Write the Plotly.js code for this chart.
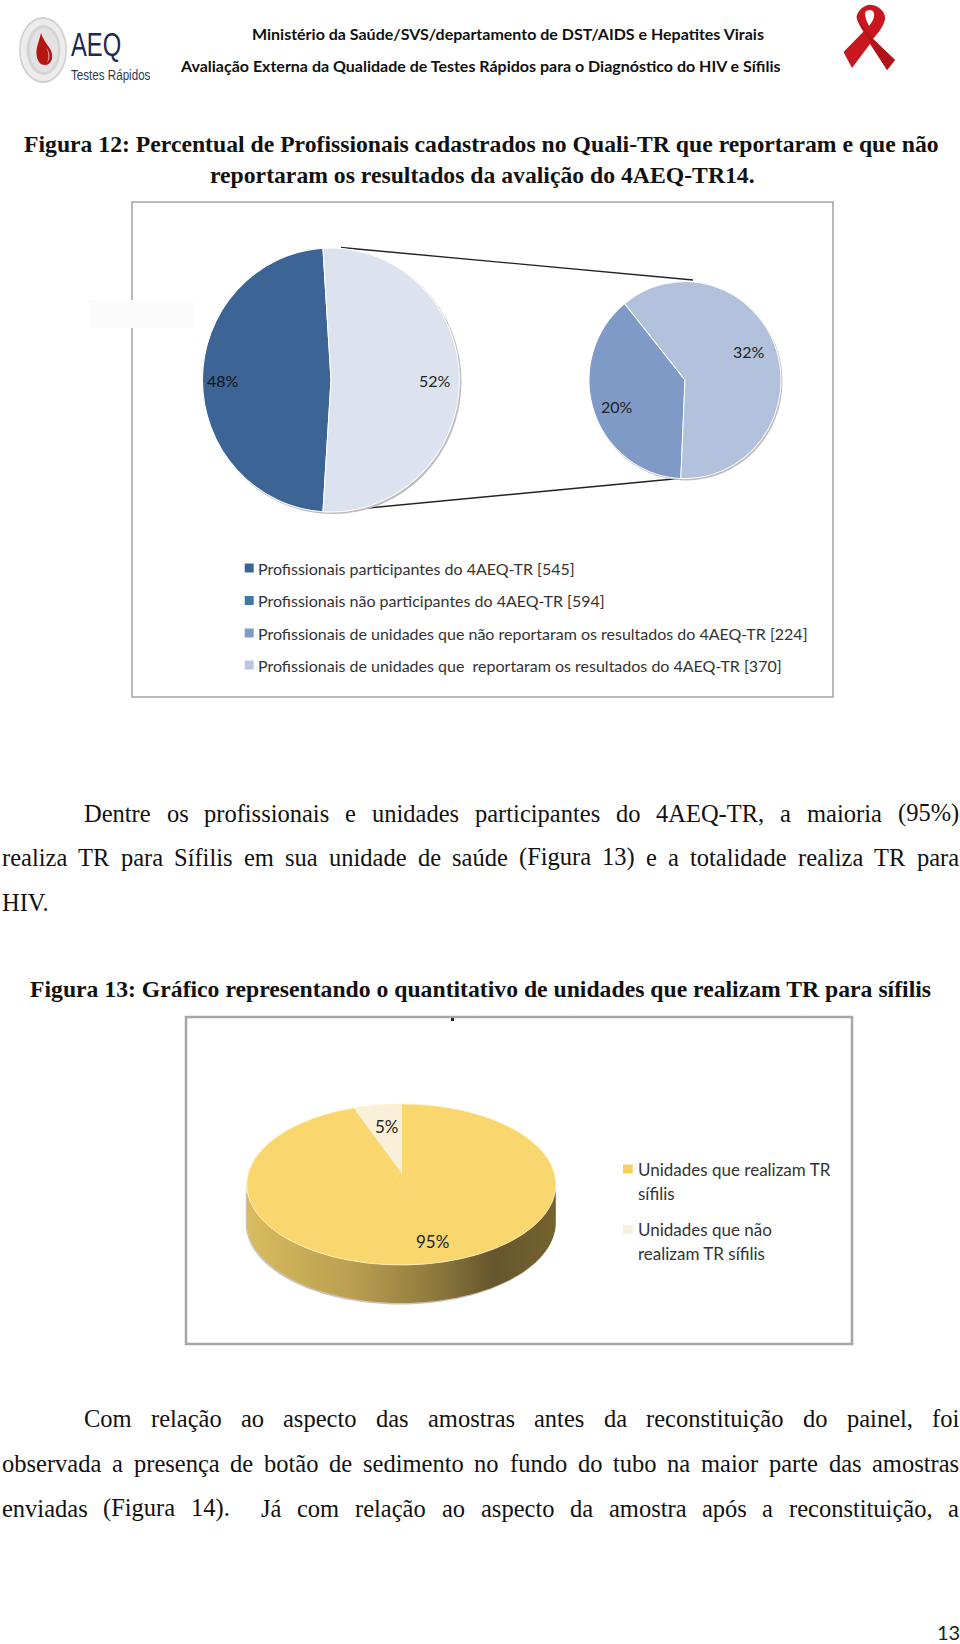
<!DOCTYPE html>
<html><head><meta charset="utf-8">
<script src="https://cdn.plot.ly/plotly-3.0.1.min.js"></script>
<style>html,body{margin:0;padding:0;background:#fff}#chart{width:960px;height:1644px}</style>
</head><body><div id="chart"></div>
<script>
// ---------- data ----------
const mainLabels = ['Profissionais participantes do 4AEQ-TR [545]', 'Profissionais não participantes do 4AEQ-TR [594]'];
const mainValues = [48, 52];
const detailLabels = ['Profissionais de unidades que não reportaram os resultados do 4AEQ-TR [224]', 'Profissionais de unidades que  reportaram os resultados do 4AEQ-TR [370]'];
const detailValues = [20, 32];
const syphilisLabels = ['Unidades que realizam TR sífilis', 'Unidades que não realizam TR sífilis'];
const syphilisValues = [95, 5];

const headerLines = ['Ministério da Saúde/SVS/departamento de DST/AIDS e Hepatites Virais', 'Avaliação Externa da Qualidade de Testes Rápidos para o Diagnóstico do HIV e Sífilis'];
const fig12Lines = ['Figura 12: Percentual de Profissionais cadastrados no Quali-TR que reportaram e que não', 'reportaram os resultados da avalição do 4AEQ-TR14.'];
const fig13Line = 'Figura 13: Gráfico representando o quantitativo de unidades que realizam TR para sífilis';
const para1 = ['Dentre os profissionais e unidades participantes do 4AEQ-TR, a maioria (95%)', 'realiza TR para Sífilis em sua unidade de saúde (Figura 13) e a totalidade realiza TR para', 'HIV.'];
const para2 = ['Com relação ao aspecto das amostras antes da reconstituição do painel, foi', 'observada a presença de botão de sedimento no fundo do tubo na maior parte das amostras', 'enviadas (Figura 14).  Já com relação ao aspecto da amostra após a reconstituição, a'];
const pageNumber = '13';
const logoTitle = 'AEQ', logoSubtitle = 'Testes Rápidos';

// ---------- helpers ----------
const W = 960, H = 1644;
const SERIF = '"Liberation Serif", serif', SANS = 'Lato, sans-serif', LOGO = '"Liberation Sans", sans-serif';
const annotations = [], shapes = [];
function txt(x, y, text, size, family, opt) {
  opt = opt || {};
  annotations.push({xref:'x', yref:'y', x, y, text, showarrow:false, borderpad:0, borderwidth:0,
    xanchor:opt.anchor || 'left', yanchor:'middle',
    font:{family, size, color:opt.color || '#111', weight:opt.weight || 'normal'}});
}
const ctx = document.createElement('canvas').getContext('2d');
function justified(line, x0, x1, y, size) {
  ctx.font = size + 'px "Liberation Serif"';
  const tokens = line.split(' ');
  const words = tokens.filter(t => t.length);
  const total = words.reduce((s, w) => s + ctx.measureText(w).width, 0);
  const gap = (x1 === null) ? ctx.measureText(' ').width : (x1 - x0 - total) / (tokens.length - 1);
  let x = x0;
  tokens.forEach(t => {
    if (t.length) { txt(x, y, t, size, SERIF); x += ctx.measureText(t).width; }
    x += gap;
  });
}
function rect(x0, y0, x1, y1, fill, line, lw) {
  shapes.push({type:'rect', xref:'x', yref:'y', x0, y0, x1, y1, fillcolor:fill, line:{color:line || fill, width:line ? lw : 0}, layer:'below'});
}
function oval(cx, cy, rx, ry, fill) {
  shapes.push({type:'circle', xref:'x', yref:'y', x0:cx-rx, y0:cy-ry, x1:cx+rx, y1:cy+ry, fillcolor:fill, line:{width:0}, layer:'below'});
}
function path(d, fill, layer) {
  shapes.push({type:'path', xref:'x', yref:'y', path:d, fillcolor:fill, line:{width:0}, layer:layer || 'below'});
}
function seg(x0, y0, x1, y1, color, lw) {
  shapes.push({type:'line', xref:'x', yref:'y', x0, y0, x1, y1, line:{color, width:lw}, layer:'below'});
}
function pieDomain(p) {
  return {x:[(p.cx-p.rx)/W, (p.cx+p.rx)/W], y:[1-(p.cy+p.rx)/H, 1-(p.cy-p.rx)/H]};
}
function pct(v) { return v + '%'; }

// ---------- page text ----------
txt(507.5, 33, headerLines[0], 16, SANS, {anchor:'center', weight:'bold'});
txt(480.5, 65.5, headerLines[1], 16, SANS, {anchor:'center', weight:'bold'});
const CAPTION = 23.7;
txt(481, 143.5, fig12Lines[0], CAPTION, SERIF, {anchor:'center', weight:'bold'});
txt(482, 175, fig12Lines[1], CAPTION, SERIF, {anchor:'center', weight:'bold'});
txt(480.5, 989, fig13Line, CAPTION, SERIF, {anchor:'center', weight:'bold'});
const BODY = 24.5;
justified(para1[0], 84, 959, 813, BODY);
justified(para1[1], 2, 959, 857, BODY);
justified(para1[2], 2, null, 902, BODY);
justified(para2[0], 84, 959, 1418, BODY);
justified(para2[1], 2, 959, 1463, BODY);
justified(para2[2], 2, 959, 1508, BODY);
txt(948, 1632, pageNumber, 20, SANS, {anchor:'center', color:'#222'});

// ---------- logo ----------
oval(43, 50, 24, 33, '#cfcfcf');
oval(43, 50, 22.5, 31, '#ececec');
oval(43.5, 50, 17, 25, '#d4d4d4');
oval(44, 50, 14, 22, '#e2e2e2');
path('M 41 33 C 39 42 36 47 36.5 54 C 37 62 41 65 45 65 C 50 65 53 60 52 54 C 51 47 44 43 41 33 Z', '#b5160f');
path('M 46 47 C 50 52 51 58 47 63 C 49 58 49 53 46 47 Z', '#e7a9a2');
txt(71, 44, logoTitle, 33, LOGO, {color:'#1d2a55'});
txt(71, 74, logoSubtitle, 15.5, LOGO, {color:'#2e3a52'});

// ---------- ribbon ----------
path('M 856.5 17 C 858 9 867 4 871 5 C 878 5 886 12 885 19 C 884 26 878 33 873 39 L 895 60 L 887 70 L 870 44 L 852 68 L 843.5 52 L 864 31 C 860 26 857 21 856.5 17 Z M 865 13 C 865 18 867 22 869 26 C 872 22 875 18 874 13 C 873 9 866 9 865 13 Z', '#c8171f');
path('M 857 15 C 859 25 866 30 872 38 L 895 60 L 887 70 L 868 38 C 863 31 858 25 857 15 Z', '#b01319');

// ---------- chart 12 frame and leader lines ----------
rect(132, 202, 833, 697, '#ffffff', '#a3a3a3', 1.5);
rect(89, 300, 194, 328, '#fbfbfb');
const MAIN = {cx:331, cy:380, rx:128.5, ry:132}, DETAIL = {cx:685, cy:380, rx:96, ry:98.5};
seg(341, 247.5, 693, 280, '#222', 1.4);
seg(352.7, 509.5, 684, 478, '#222', 1.4);
oval(MAIN.cx+1.5, MAIN.cy+1.5, MAIN.rx+0.5, MAIN.ry+0.5, '#bdbdbd');
oval(DETAIL.cx+1, DETAIL.cy+1.5, DETAIL.rx+0.5, DETAIL.ry+0.5, '#bdbdbd');

// legend of chart 12
const legend12 = mainLabels.concat(detailLabels);
const legend12Colors = ['#3c6595', '#3f78a9', '#7f9ac6', '#b9c6de'];
const legend12Y = [568, 600.5, 633, 665];
legend12.forEach((t, i) => {
  rect(244.7, legend12Y[i]-4.5, 253.7, legend12Y[i]+4.5, legend12Colors[i]);
  txt(257.7, legend12Y[i], t, 16, SANS, {color:'#333'});
});
txt(223, 380, pct(mainValues[0]), 16, SANS, {anchor:'center'});
txt(435, 380, pct(mainValues[1]), 16, SANS, {anchor:'center', color:'#222'});
txt(616.5, 406.5, pct(detailValues[0]), 16, SANS, {anchor:'center', color:'#222'});
txt(749, 351.5, pct(detailValues[1]), 16, SANS, {anchor:'center', color:'#222'});

// ---------- chart 13 frame ----------
rect(186, 1017, 852, 1344, '#ffffff', '#a6a6a6', 2.5);
rect(451, 1018, 454, 1021, '#222');
const TOP = {cx:401.3, cy:1184.5, rx:154.5, ry:80.5, depth:38};
function wall(dx, dy) {
  const xs = [], ys = [];
  for (let a = 0; a <= 180; a += 3) {
    const t = a * Math.PI / 180;
    xs.push(TOP.cx + dx + TOP.rx * Math.cos(t)); ys.push(TOP.cy + TOP.ry * Math.sin(t));
  }
  for (let a = 180; a >= 0; a -= 3) {
    const t = a * Math.PI / 180;
    xs.push(TOP.cx + dx + TOP.rx * Math.cos(t)); ys.push(TOP.cy + dy + TOP.depth + TOP.ry * Math.sin(t));
  }
  return {x:xs, y:ys};
}
const shadowWall = wall(-1, 1.5), mainWall = wall(0, 0);
// the original's perspective lifts the wedge apex above the centre of the top face
const TOP_FILL = '#fad66f';
path('M 353.5 1108 L 401.3 1173 L 403 1173 L 403 1188 L 352 1109 Z', TOP_FILL, 'above');

// legend of chart 13
const legend13Colors = ['#f6cf5f', '#f8f0dc'];
rect(623, 1164.5, 632.7, 1173.5, legend13Colors[0]);
rect(623, 1225, 632.7, 1234, legend13Colors[1]);
txt(637.5, 1169.5, 'Unidades que realizam TR', 17, SANS, {color:'#333'});
txt(637.5, 1193, 'sífilis', 17, SANS, {color:'#333'});
txt(637.5, 1229.5, 'Unidades que não', 17, SANS, {color:'#333'});
txt(637.5, 1253.5, 'realizam TR sífilis', 17, SANS, {color:'#333'});
txt(387.4, 1126.5, pct(syphilisValues[1]), 17, SANS, {anchor:'center', color:'#222'});
txt(432.2, 1241.5, pct(syphilisValues[0]), 17, SANS, {anchor:'center', color:'#222'});

// ---------- traces ----------
const traces = [
  {type:'scatter', mode:'none', x:shadowWall.x, y:shadowWall.y, fill:'toself', fillcolor:'#c9c5bb', hoverinfo:'skip', showlegend:false},
  {type:'scatter', mode:'none', x:mainWall.x, y:mainWall.y, fill:'toself', hoverinfo:'skip', showlegend:false,
   fillgradient:{type:'horizontal', colorscale:[[0,'#d9bc5e'],[0.35,'#b89e50'],[0.6,'#8f7a3e'],[0.8,'#67562d'],[1,'#75632f']]}},
  {type:'pie', labels:mainLabels, values:mainValues, sort:false, direction:'clockwise', rotation:183.6,
   marker:{colors:['#3c6595','#dce3ef'], line:{color:'#ffffff', width:1}}, textinfo:'none', hoverinfo:'label+percent',
   domain:pieDomain(MAIN), showlegend:false},
  {type:'pie', labels:detailLabels, values:detailValues, sort:false, direction:'clockwise', rotation:182.5,
   marker:{colors:['#7f9ac6','#b3c2dc'], line:{color:'#ffffff', width:1}}, textinfo:'none', hoverinfo:'label+percent',
   domain:pieDomain(DETAIL), showlegend:false},
  {type:'pie', labels:syphilisLabels, values:syphilisValues, sort:false, direction:'clockwise', rotation:0,
   marker:{colors:[TOP_FILL,'#f9f0da'], line:{color:'#fff3c4', width:1}}, textinfo:'none', hoverinfo:'label+percent',
   domain:pieDomain(TOP), showlegend:false}
];
const layout = {
  width:W, height:H, margin:{l:0, r:0, t:0, b:0}, paper_bgcolor:'#fff', plot_bgcolor:'#fff', showlegend:false,
  xaxis:{range:[0, W], visible:false, fixedrange:true},
  yaxis:{range:[H, 0], visible:false, fixedrange:true},
  annotations, shapes
};
Plotly.newPlot('chart', traces, layout, {displayModeBar:false}).then(gd => {
  // the originals are slightly elliptical pies: stretch each drawn pie to its ellipse
  const groups = gd.querySelectorAll('.pielayer .trace');
  [MAIN, DETAIL, TOP].forEach((p, i) => {
    const s = p.ry / p.rx;
    groups[i].setAttribute('transform', `translate(${p.cx},${p.cy}) scale(1,${s}) translate(${-p.cx},${-p.cy})`);
  });
  // the logo lettering is condensed in the original
  gd.querySelectorAll('.annotation').forEach(a => {
    const t = a.textContent;
    if (t === logoTitle || t === logoSubtitle) {
      const k = t === logoTitle ? 0.72 : 0.75;
      a.setAttribute('transform', `translate(71,0) scale(${k},1) translate(-71,0)`);
    }
  });
});
</script></body></html>
